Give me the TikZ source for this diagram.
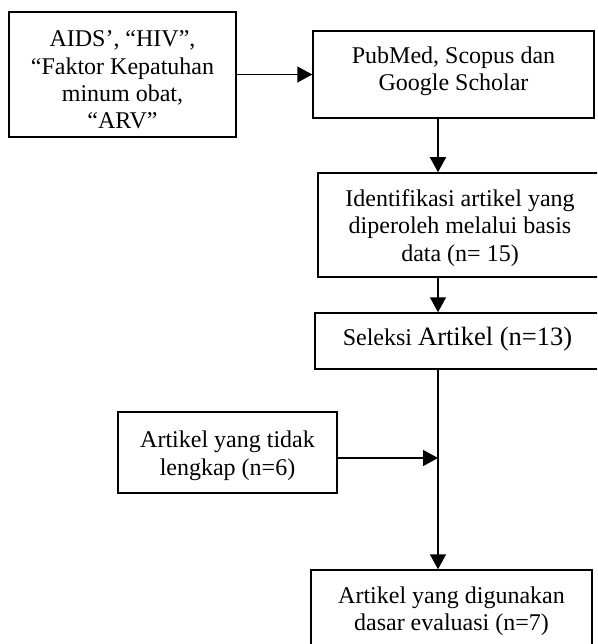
\documentclass[tikz,border=0pt]{standalone}
\usepackage{fontspec}
\setmainfont{Liberation Serif}
\usetikzlibrary{arrows.meta}
\begin{document}
\begin{tikzpicture}[x=1pt,y=-1pt,
  box/.style={draw, line width=1.5pt, align=center, inner sep=0pt,
    font=\fontsize{24}{27.3}\selectfont},
  arr/.style={line width=1.5pt, -{Triangle[length=15pt,width=16pt]}}]
\useasboundingbox (0,0) rectangle (597,644);
\begin{scope}
\clip (0,0) rectangle (597,644);
\node[box, minimum width=227pt, minimum height=125pt] (q) at (122.5,74.5)
  {\rule{0pt}{27pt}AIDS’, “HIV”,\\ “Faktor Kepatuhan\\ minum obat,\\ “ARV”};
\node[box, minimum width=281pt, minimum height=87pt] (db) at (453.5,74.5)
  {PubMed, Scopus dan\\ Google Scholar\rule[-12pt]{0pt}{0pt}};
\node[box, minimum width=284pt, minimum height=104pt] (id) at (460,225)
  {\rule{0pt}{23pt}Identifikasi artikel yang\\ diperoleh melalui basis\\ data (n= 15)};
\node[box, minimum width=285pt, minimum height=56pt] (sel) at (457.5,341)
  {Seleksi {\fontsize{26.5}{28}\selectfont Artikel (n=13)}\rule[-10.3pt]{0pt}{0pt}};
\node[box, minimum width=219pt, minimum height=81pt] (inc) at (227.5,452.5)
  {\rule{0pt}{23pt}Artikel yang tidak\\ lengkap (n=6)};
\node[box, minimum width=281pt, minimum height=82.6pt] (res) at (451.5,611.3)
  {Artikel yang digunakan\\ dasar evaluasi (n=7)};
\coordinate (cx) at (438,0);
\coordinate (j) at (438,458);
\draw[arr] (q.east) -- (db.west);
\draw[arr] (db.south -| cx) -- (id.north -| cx);
\draw[arr] (id.south -| cx) -- (sel.north -| cx);
\draw[arr] (sel.south -| cx) -- (res.north -| cx);
\draw[arr] (inc.east |- j) -- (j);
\end{scope}
\end{tikzpicture}
\end{document}
